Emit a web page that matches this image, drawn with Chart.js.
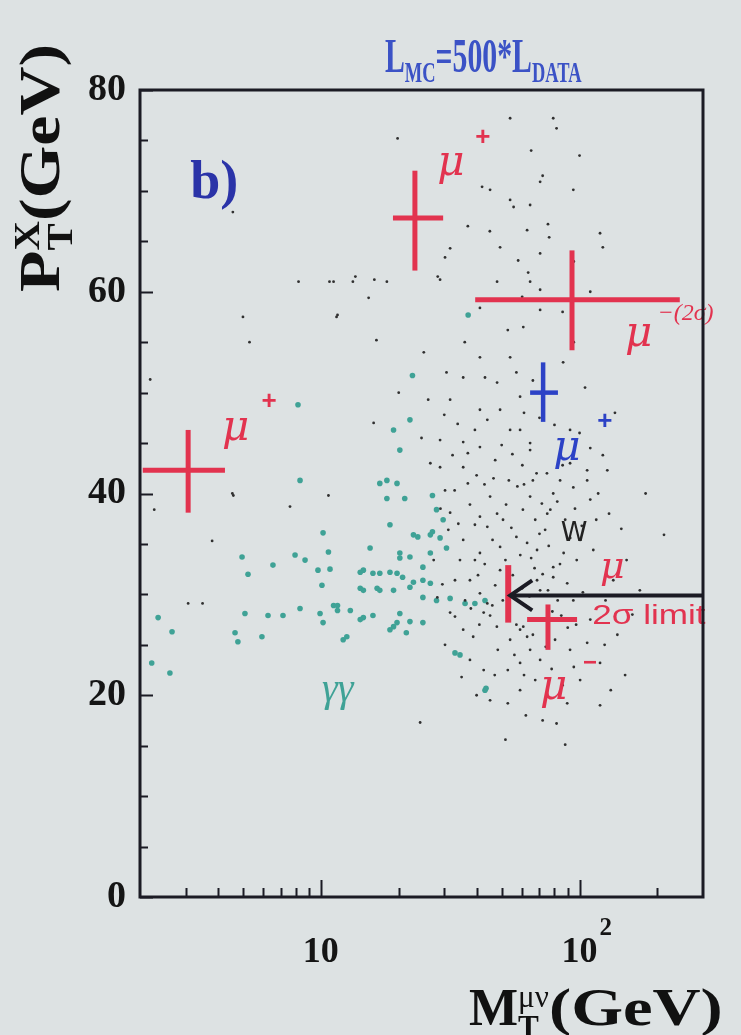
<!DOCTYPE html>
<html>
<head>
<meta charset="utf-8">
<script src="https://cdn.jsdelivr.net/npm/chart.js@4/dist/chart.umd.min.js"></script>
<style>
html,body{margin:0;padding:0;background:#dde2e3;width:741px;height:1035px;overflow:hidden}
#wrap{position:relative;width:741px;height:1035px}
canvas{position:absolute;left:0;top:0}
.t{position:absolute;font-family:"Liberation Serif","Times New Roman",serif;font-weight:bold;white-space:nowrap;line-height:1}
.t sub{font-size:0.62em;vertical-align:-0.32em;line-height:1}
.ss{display:inline-block;font-size:0.6em;line-height:0.95;vertical-align:-0.38em;text-align:left}
.ss span{display:block}
</style>
</head>
<body>
<div id="wrap">
<canvas id="c" width="741" height="1035"></canvas>
<div class="t" id="title" style="left:385px;top:32px;font-size:48px;color:#3b52c6;transform:scaleX(0.62);transform-origin:0 0">L<sub>MC</sub>=500*L<sub>DATA</sub></div>
<div class="t" id="ytitle" style="left:11px;top:292px;font-size:58px;color:#111;transform:rotate(-90deg) scaleX(1.17);transform-origin:0 0">P<span class="ss"><span>X</span><span>T</span></span>(GeV)</div>
<div class="t" id="xtitle" style="left:469px;top:982px;font-size:52px;color:#111">M<span class="ss"><span style="font-weight:normal">&#956;&#957;</span><span>T</span></span><span style="display:inline-block;transform:scaleX(1.28);transform-origin:0 50%">(GeV)</span></div>
<div class="t" style="left:-16px;top:990px;font-size:48px;color:#1d2a6a">)</div>
</div>
<script>
// ---------------- data ----------------
// gamma-gamma Monte Carlo events [M_T (GeV), P_T^X (GeV)]
const gammaGamma = [
 [2.35,27.7],[2.66,26.3],[2.22,23.2],[2.61,22.2],[4.96,33.7],[5.23,32.0],[5.09,28.1],[4.66,26.2],
 [4.78,25.3],[5.92,25.8],[6.25,27.9],[6.53,32.9],[7.14,27.9],[7.95,33.9],[8.31,28.6],[8.69,33.4],
 [9.75,32.4],[10.2,36.1],[10.7,34.2],[10.1,30.9],[10.2,27.2],[10.85,32.5],[11.2,28.9],[8.16,48.8],
 [8.31,41.3],[11.6,28.9],[12.2,25.5],[13.0,28.4],[14.2,30.6],[14.6,32.4],[14.6,27.7],[15.5,34.6],
 [15.9,27.9],[16.5,30.6],[16.9,32.1],[16.9,41.0],[18.0,41.3],[18.0,39.5],[18.5,36.9],[18.5,26.5],
 [19.1,30.4],[19.7,32.1],[19.7,41.0],[19.7,27.2],[20.2,33.6],[20.2,44.3],[20.7,31.7],[21.1,39.5],
 [21.4,26.2],[22.1,33.7],[22.1,30.7],[22.1,27.3],[22.1,47.3],[22.8,31.2],[23.7,35.7],[24.8,32.7],
 [24.8,29.7],[26.5,35.9],[26.5,34.1],[26.5,31.1],[27.0,36.2],[28.0,38.4],[28.0,29.4],[28.9,35.6],
 [29.7,37.4],[30.6,34.6],[31.6,29.6],[33.0,24.2],[36.1,29.1],[39.4,29.1],[43.1,29.4],[43.1,20.5],
 [37.1,57.7],[22.6,51.7],[34.5,24.0],[43.5,20.7],[19.1,46.3],[27.0,39.8],[22.8,35.9],[20.2,34.1],
 [18.5,32.2],[24.8,31.4],[15.9,32.1],[14.2,32.2],[14.6,30.4],[16.9,30.4],[11.6,28.4],[14.2,27.5],
 [19.1,26.8],[20.2,28.1],[24.8,27.2],[12.6,25.8],[9.93,28.1]
];
// W Monte Carlo events [M_T (GeV), P_T^X (GeV)]
const wEvents = [
 [19.8,75.2],[53.9,77.2],[79.1,77.2],[81.5,76.2],[42.0,70.4],[45.1,70.1],[70.4,70.9],[94.6,70.1],
 [53.9,69.1],[55.6,68.4],[64.4,68.6],[75.5,66.7],[62.7,66.1],[76.3,65.4],[49.3,64.4],[31.6,64.3],
 [70.4,63.8],[30.2,63.4],[57.9,63.1],[28.9,61.2],[11.2,61.0],[13.6,61.5],[16.1,61.2],[18.0,61.0],
 [8.2,61.0],[10.8,61.0],[13.3,61.0],[15.3,59.4],[63.3,61.9],[64.4,61.0],[70.4,60.2],[41.2,58.4],
 [70.4,58.2],[11.6,57.7],[5.0,57.5],[11.5,57.5],[52.8,56.2],[60.6,56.5],[16.4,55.2],[5.3,55.0],
 [53.9,53.5],[41.2,53.5],[30.6,52.0],[35.5,51.5],[43.1,51.5],[86.4,53.0],[120,65.8],[123,64.4],
 [2.19,51.3],[4.57,67.9],[28.3,61.5],[137,48.0],[123,43.8],[128,42.3],[91.9,46.3],
 [28.9,45.3],[35.5,45.1],[35.5,42.6],[41.2,44.6],[44.0,47.3],[53.9,46.3],[58.9,46.3],[64.4,45.0],
 [64.4,44.3],[68.2,42.0],[74.8,42.0],[84.1,41.3],[79.1,40.0],[94.6,40.6],[107,41.3],[64.4,39.7],
 [60.4,38.4],[57.0,35.7],[62.7,35.1],[68.5,34.4],[49.3,34.7],[44.0,36.7],[41.2,37.7],[31.6,38.1],
 [32.9,40.3],[28.9,42.6],[45.1,39.7],[50.6,37.4],[113,34.4],[97.5,33.4],[79.1,32.7],[86.8,34.1],
 [41.2,34.1],[35.5,35.4],[26.0,49.3],[31.6,49.3],[41.2,48.3],[49.3,48.3],[58.9,49.6],[91.9,43.0],
 [107,42.3],[116,37.4],
 [41.2,30.1],[44.0,29.1],[42.6,28.2],[35.5,26.5],[38.8,25.8],[47.9,26.8],[58.9,26.5],[62.7,25.8],
 [64.4,24.5],[60.6,26.8],[68.5,31.4],[79.1,31.7],[89.6,31.1],[94.6,29.4],[52.8,22.5],[58.9,23.2],
 [91.9,24.5],[107,25.2],[120,23.2],[89.6,19.2],[81.5,17.2],[52.8,19.2],[42.6,22.5],[28.2,29.7],
 [31.6,28.2],
 [37.7,38.9],[39.4,36.9],[46.1,35.4],[51.7,33.4],[55.2,31.9],[47.2,30.9],[49.3,32.4],[56.5,29.9],
 [61.6,28.9],[45.1,27.9],[37.7,31.4],[34.5,33.4],[33.0,31.4],[36.1,29.4],[39.4,33.4],[67.4,37.4],
 [73.6,36.4],[77.1,38.4],[88.0,37.4],[70.4,30.4],[82.3,29.4],[73.6,27.5],[53.9,25.5],[48.3,24.5],
 [70.4,23.5],[80.4,25.5],[58.9,20.5],[67.4,21.5],[100.5,21.5],[110,27.5],[126,29.4],[135,31.4],
 [152,33.4],[100.5,35.4],[110,39.4],[53.3,41.3],[60.1,42.8],[47.2,43.3],[39.4,46.3],[32.3,43.8],
 [30.2,40.3],[31.1,36.4],[27.3,33.4],[30.2,25.0],[37.7,23.5],[45.1,19.5],[24.2,17.3],[212,35.9],
 [171,30.4],[120,19.0],[88.0,15.1],[132,20.5],[51.7,15.6],
 [3.80,35.3],[2.27,38.4],[4.55,40.0],[3.07,29.1],[3.49,29.1],[10.7,39.8],[7.6,38.7],[4.59,39.8],
 [30.0,47.8],[33.8,46.9],[37.0,44.0],[40.0,41.8],[42.9,40.9],[46.5,41.5],[50.0,44.8],[55.0,43.9],
 [57.5,40.7],[61.0,40.9],[66.0,41.3],[71.5,39.0],[75.0,38.0],[82.0,39.2],[86.0,42.8],[96.0,38.5],
 [102,36.8],[92.0,35.6],[84.0,33.0],[76.0,34.8],[70.0,36.0],[65.0,33.6],[59.0,33.9],[54.5,36.6],
 [52.0,38.9],[48.0,38.0],[43.0,33.0],[40.5,31.9],[38.0,28.6],[41.0,27.0],[46.0,28.9],[50.5,29.4],
 [53.0,27.6],[57.0,27.0],[60.0,30.6],[64.0,29.8],[67.0,32.6],[72.0,32.0],[75.5,30.4],[78.5,28.3],
 [85.0,27.9],[90.0,26.7],[97.0,27.0],[103,30.2],[56.0,24.0],[61.0,22.0],[66.0,26.0],[74.0,24.8],
 [78.0,22.6],[86.0,21.0],[95.0,22.8],[62.0,18.0],[72.0,17.5],[47.0,22.0],[40.0,20.0],[35.0,21.8],
 [33.0,27.8],[29.5,31.0],[34.0,37.0],[37.0,41.0],[29.0,38.5],[26.5,43.0],[24.5,45.5],[57.0,52.0],
 [66.0,51.2],[48.0,51.0],[61.0,48.0],[70.0,47.5],[80.0,46.8],[100,46.0],[110,44.5],[118,40.0],
 [130,38.0],[145,36.5],[160,28.0],[140,26.0],[125,25.0],[150,22.0],[180,40.0],[105,50.5],
 [95,55.0],[86,58.0],[60,59.5],[48,61.0],[36,55.0],[25,54.0],[20,50.0],[16,47.0],
 [45,66.0],[37,66.5],[95,63.0],[110,60.0],[72.0,71.5],[65,74.0],[100,73.5]
];
// observed muon events (red): centre and error extents
const muX    = [23.1, 93.5, 3.07, 75.5];
const muY    = [67.3, 59.2, 42.3, 27.5];
const muXlo  = [19.0, 39.5, 2.05, 62.7];
const muXhi  = [29.7, 244,  4.26, 97.8];
const muYlo  = [62.1, 54.2, 38.1, 24.5];
const muYhi  = [72.0, 64.1, 46.3, 29.0];
// blue muon event
const bluX = [72.3], bluY = [50.0], bluXlo = [64.4], bluXhi = [82.5], bluYlo = [47.1], bluYhi = [53.0];
// 2 sigma limit marker and arrow
const limitX = 53.0, limitYlo = 27.2, limitYhi = 32.9, arrowY = 29.9, arrowXfrom = 300;
// axes
const xTickValues = [3,4,5,6,7,8,9,10,20,30,40,50,60,70,80,90,100,200];
const xTickLabels = {10:'10', 100:'10'};
const xTickSup = {100:'2'};
const yTickValues = [0,5,10,15,20,25,30,35,40,45,50,55,60,65,70,75,80];
const yTickLabels = {0:'0',20:'20',40:'40',60:'60',80:'80'};

// ---------------- styles ----------------
const BG='#dde2e3', RED='#e2334f', BLUE='#2c42c6', BLUE_D='#2a33a8', TEAL='#3fa296', INK='#1b1b24';
const SERIF='"Liberation Serif","Times New Roman",serif';
const MU='italic 42px "DejaVu Serif"';
const annotations = [
 {text:'b)', x:3.13, y:69.3, color:BLUE_D, font:'bold 54px '+SERIF},
 {text:'\u03BC', x:28.2, y:71.6, color:RED, font:MU},
 {text:'+', x:39.5, y:75.3, color:RED, font:'bold 26px "Liberation Sans"', mid:true},
 {text:'\u03BC', x:150, y:54.6, color:RED, font:MU},
 {text:'\u2212(2\u03C3)', x:200, y:57.8, color:RED, font:'italic 24px '+SERIF, mid:true},
 {text:'\u03BC', x:4.15, y:45.3, color:RED, font:MU},
 {text:'+', x:5.9, y:49.1, color:RED, font:'bold 26px "Liberation Sans"', mid:true},
 {text:'\u03BC', x:79.1, y:43.3, color:BLUE, font:MU},
 {text:'+', x:117, y:47.1, color:BLUE, font:'bold 26px "Liberation Sans"', mid:true},
 {text:'W', x:84.5, y:35.3, color:'#222', font:'27px "DejaVu Sans"'},
 {text:'\u03BC', x:120, y:31.6, color:RED, font:'italic 38px "DejaVu Serif"'},
 {text:'2\u03C3 limit', x:112, y:27.8, color:RED, font:'27px "Liberation Sans"', mid:true, sx:1.3},
 {text:'\u03BC', x:70.4, y:19.6, color:RED, font:MU},
 {text:'\u2212', x:103, y:23.2, color:RED, font:'bold 24px "Liberation Sans"', mid:true},
 {text:'\u03B3\u03B3', x:10.1, y:19.4, color:TEAL, font:'italic 40px '+SERIF}
];

function seg(a, b, color, w){
  return {type:'line', data:[a,b], borderColor:color, backgroundColor:color, borderWidth:w,
          pointRadius:0, showLine:true, fill:false, tension:0, order:0};
}
const datasets = [
  {label:'gg', data: gammaGamma.map(([x,y])=>({x,y})), backgroundColor:TEAL, borderColor:TEAL, pointRadius:2.8, borderWidth:0, order:3},
  {label:'W', data: wEvents.map(([x,y])=>({x,y})), backgroundColor:'#303030', borderColor:'#303030', pointRadius:1.4, borderWidth:0, order:2}
];
muX.forEach((cx,i)=>{
  datasets.push(seg({x:muXlo[i],y:muY[i]},{x:muXhi[i],y:muY[i]},RED,5));
  datasets.push(seg({x:cx,y:muYlo[i]},{x:cx,y:muYhi[i]},RED,5));
});
bluX.forEach((cx,i)=>{
  datasets.push(seg({x:bluXlo[i],y:bluY[i]},{x:bluXhi[i],y:bluY[i]},BLUE,4.5));
  datasets.push(seg({x:cx,y:bluYlo[i]},{x:cx,y:bluYhi[i]},BLUE,4.5));
});
datasets.push(seg({x:limitX,y:limitYlo},{x:limitX,y:limitYhi},RED,6));
datasets.push(seg({x:arrowXfrom,y:arrowY},{x:limitX,y:arrowY},INK,4));

const decor = {
  id:'decor',
  beforeDraw(chart){
    const c=chart.ctx; c.save(); c.fillStyle=BG; c.fillRect(0,0,chart.width,chart.height); c.restore();
  },
  afterDatasetsDraw(chart){
    const c=chart.ctx, xs=chart.scales.x, ys=chart.scales.y;
    c.save();
    const tx=xs.getPixelForValue(limitX), ty=ys.getPixelForValue(arrowY);
    c.strokeStyle=INK; c.lineWidth=4; c.lineJoin='miter';
    c.beginPath(); c.moveTo(tx+24,ty-15); c.lineTo(tx+2,ty); c.lineTo(tx+24,ty+15); c.stroke();
    for(const a of annotations){
      c.save();
      c.font=a.font; c.fillStyle=a.color; c.textAlign='left';
      c.textBaseline = a.mid ? 'middle' : 'alphabetic';
      const px=xs.getPixelForValue(a.x), py=ys.getPixelForValue(a.y);
      c.translate(px,py); if(a.sx) c.scale(a.sx,1);
      c.fillText(a.text, 0, 0);
      c.restore();
    }
    c.restore();
  },
  afterDraw(chart){
    const c=chart.ctx, a=chart.chartArea, xs=chart.scales.x, ys=chart.scales.y;
    c.save(); c.strokeStyle=INK; c.lineWidth=2;
    c.beginPath();
    for(const v of yTickValues){
      const p=Math.round(ys.getPixelForValue(v))+0.5, L=(v%20===0)?13:8;
      c.moveTo(a.left,p); c.lineTo(a.left+L,p);
    }
    for(const v of xTickValues){
      const p=Math.round(xs.getPixelForValue(v))+0.5, L=(v===10||v===100)?17:9;
      c.moveTo(p,a.bottom); c.lineTo(p,a.bottom-L);
    }
    c.stroke();
    c.lineWidth=3; c.strokeRect(a.left,a.top,a.right-a.left,a.bottom-a.top);
    c.font='bold 25px '+SERIF; c.fillStyle='#151515'; c.textAlign='left'; c.textBaseline='alphabetic';
    for(const k in xTickSup){
      c.fillText(xTickSup[k], xs.getPixelForValue(+k)+20, a.bottom+38);
    }
    c.restore();
  }
};

new Chart(document.getElementById('c'), {
  type:'scatter',
  data:{datasets},
  options:{
    responsive:false, animation:false, devicePixelRatio:1,
    layout:{padding:{top:90,right:38,left:0,bottom:0}},
    plugins:{legend:{display:false}, tooltip:{enabled:false}, title:{display:false}},
    scales:{
      x:{type:'logarithmic', min:2, max:300,
         afterBuildTicks(s){ s.ticks = xTickValues.map(v=>({value:v})); },
         afterFit(s){ s.height = 138; },
         grid:{display:false}, border:{display:false},
         ticks:{autoSkip:false, maxRotation:0, padding:26, color:'#151515',
                font:{family:SERIF, weight:'bold', size:36},
                callback:(v)=> xTickLabels[v] || ''}},
      y:{type:'linear', min:0, max:80,
         afterBuildTicks(s){ s.ticks = yTickValues.map(v=>({value:v})); },
         afterFit(s){ s.width = 140; },
         grid:{display:false}, border:{display:false},
         ticks:{autoSkip:false, padding:6, color:'#151515',
                font:{family:SERIF, weight:'bold', size:38},
                callback:(v)=> (yTickLabels[v]!==undefined ? yTickLabels[v] : '')}}
    }
  },
  plugins:[decor]
});
</script>
</body>
</html>
